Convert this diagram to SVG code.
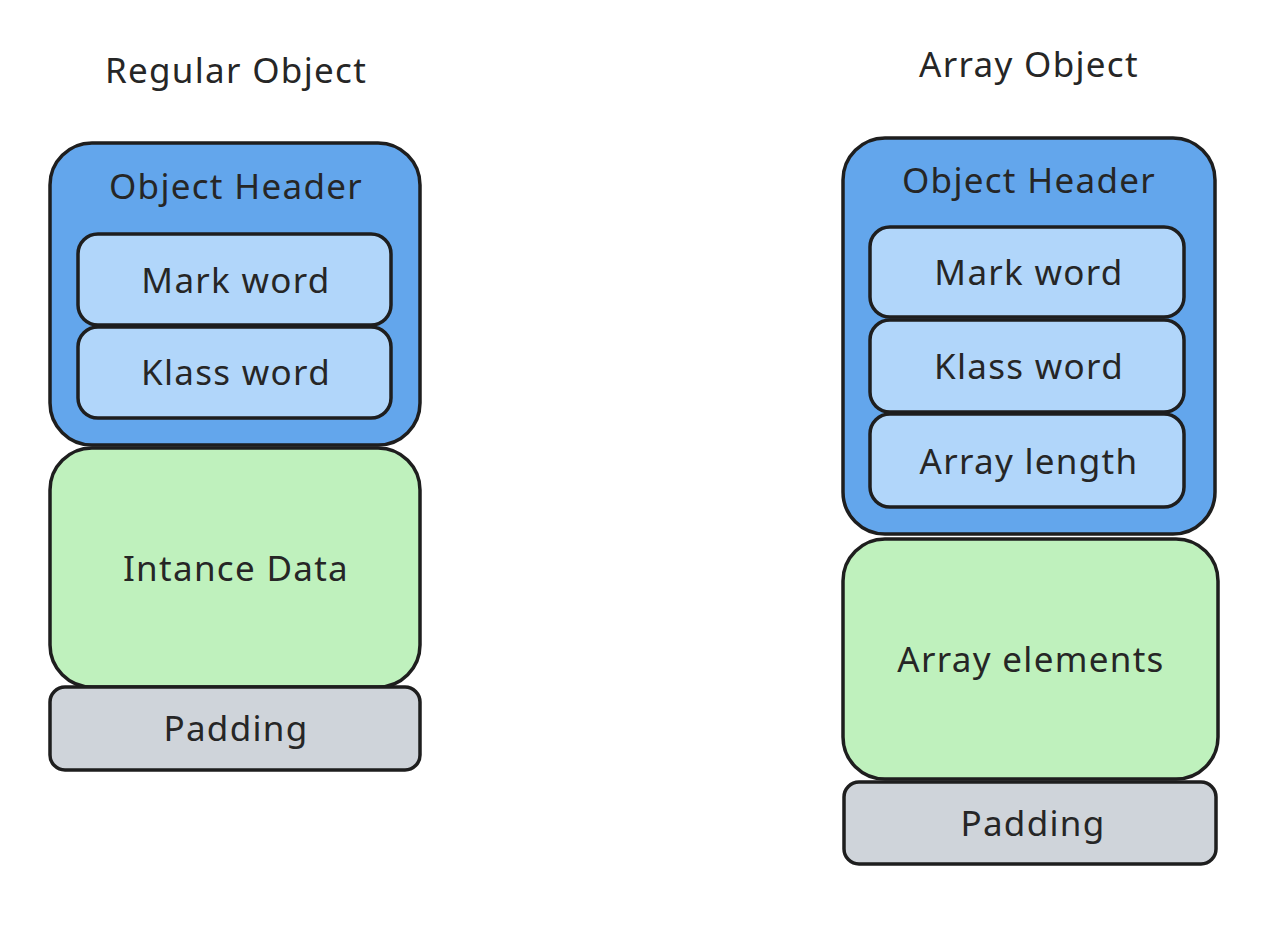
<svg xmlns="http://www.w3.org/2000/svg" width="1272" height="942" viewBox="0 0 1272 942">
<style>
text{font-family:"Noto Sans","Open Sans",sans-serif;fill:#262626;text-anchor:middle;}
.t{font-size:35px;letter-spacing:1.3px;}
.s{stroke:#1e1e1e;stroke-width:3.5;stroke-linejoin:round;}
.hdr{fill:#63a6ec;}
.sub{fill:#b1d6fa;}
.dat{fill:#bff1bd;}
.pad{fill:#cfd4da;}
</style>
<rect width="1272" height="942" fill="#ffffff"/>
<g id="title-regular"><text class="t" x="236" y="83">Regular Object</text></g>
<g id="title-array"><text class="t" x="1029" y="77">Array Object</text></g>

<g id="reg-header"><rect class="s hdr" x="50" y="143" width="370" height="302" rx="42"/><text class="t" x="236" y="199">Object Header</text></g>
<g id="reg-mark"><rect class="s sub" x="78" y="234" width="313" height="91" rx="20"/><text class="t" x="236" y="293">Mark word</text></g>
<g id="reg-klass"><rect class="s sub" x="78" y="327" width="313" height="91" rx="20"/><text class="t" x="236" y="385">Klass word</text></g>
<g id="reg-data"><rect class="s dat" x="50" y="448" width="370" height="239" rx="42"/><text class="t" x="236" y="581">Intance Data</text></g>
<g id="reg-padding"><rect class="s pad" x="50" y="687" width="370" height="83" rx="15"/><text class="t" x="236" y="741">Padding</text></g>

<g id="arr-header"><rect class="s hdr" x="843" y="138" width="372" height="396" rx="42"/><text class="t" x="1029" y="193">Object Header</text></g>
<g id="arr-mark"><rect class="s sub" x="870" y="227" width="314" height="90" rx="20"/><text class="t" x="1029" y="285">Mark word</text></g>
<g id="arr-klass"><rect class="s sub" x="870" y="320" width="314" height="92" rx="20"/><text class="t" x="1029" y="379">Klass word</text></g>
<g id="arr-length"><rect class="s sub" x="870" y="414" width="314" height="93" rx="20"/><text class="t" x="1029" y="474">Array length</text></g>
<g id="arr-elements"><rect class="s dat" x="843" y="539" width="375" height="240" rx="42"/><text class="t" x="1031" y="672">Array elements</text></g>
<g id="arr-padding"><rect class="s pad" x="844" y="782" width="372" height="82" rx="15"/><text class="t" x="1033" y="836">Padding</text></g>
<g id="connectors"></g>
</svg>
